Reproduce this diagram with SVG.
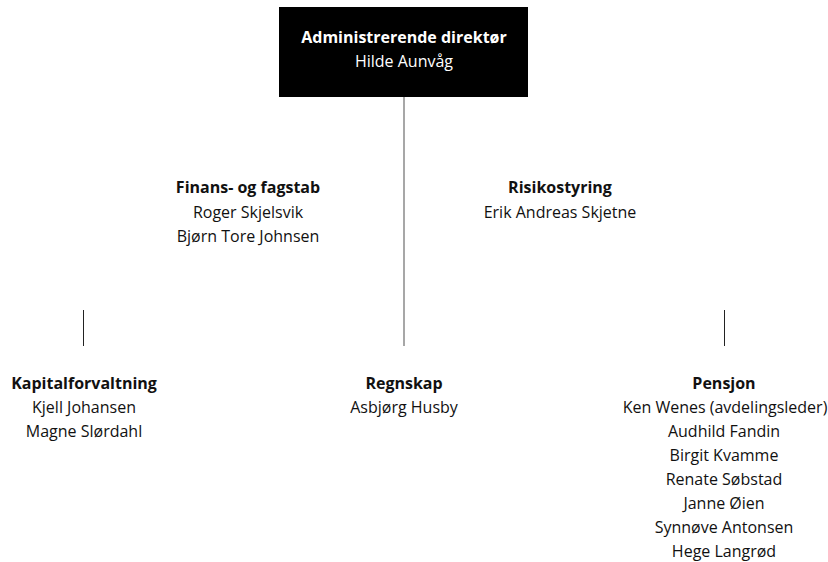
<svg xmlns="http://www.w3.org/2000/svg" width="828" height="562" viewBox="0 0 828 562">
<style>
text{font-family:"Open Sans","Noto Sans","Liberation Sans",sans-serif;font-size:16px;text-anchor:middle;fill:#111}
.b{font-weight:bold}
.w{fill:#fff}
.gl{stroke:#8a8a8a;stroke-width:1.5;fill:none}
.dl{stroke:#222;stroke-width:1;fill:none}
</style>
<rect width="828" height="562" fill="#fff"/>
<g id="connectors">
<line class="gl" x1="404" y1="97" x2="404" y2="346"/>
<line class="dl" x1="83.5" y1="310" x2="83.5" y2="346"/>
<line class="dl" x1="724.5" y1="310" x2="724.5" y2="346"/>
</g>
<g id="ceo">
<rect x="279" y="7" width="249" height="90" fill="#000"/>
<text class="b w" x="404" y="43">Administrerende direktør</text>
<text class="w" x="404" y="67">Hilde Aunvåg</text>
</g>
<g id="finans">
<text class="b" x="248" y="193">Finans- og fagstab</text>
<text x="248" y="218">Roger Skjelsvik</text>
<text x="248" y="242">Bjørn Tore Johnsen</text>
</g>
<g id="risiko">
<text class="b" x="560" y="193">Risikostyring</text>
<text x="560" y="218">Erik Andreas Skjetne</text>
</g>
<g id="kapital">
<text class="b" x="84" y="389">Kapitalforvaltning</text>
<text x="84" y="413">Kjell Johansen</text>
<text x="84" y="437">Magne Slørdahl</text>
</g>
<g id="regnskap">
<text class="b" x="404" y="389">Regnskap</text>
<text x="404" y="413">Asbjørg Husby</text>
</g>
<g id="pensjon">
<text class="b" x="724" y="389">Pensjon</text>
<text x="725" y="413">Ken Wenes (avdelingsleder)</text>
<text x="724" y="437">Audhild Fandin</text>
<text x="724" y="461">Birgit Kvamme</text>
<text x="724" y="485">Renate Søbstad</text>
<text x="724" y="509">Janne Øien</text>
<text x="724" y="533">Synnøve Antonsen</text>
<text x="724" y="557">Hege Langrød</text>
</g>
</svg>
